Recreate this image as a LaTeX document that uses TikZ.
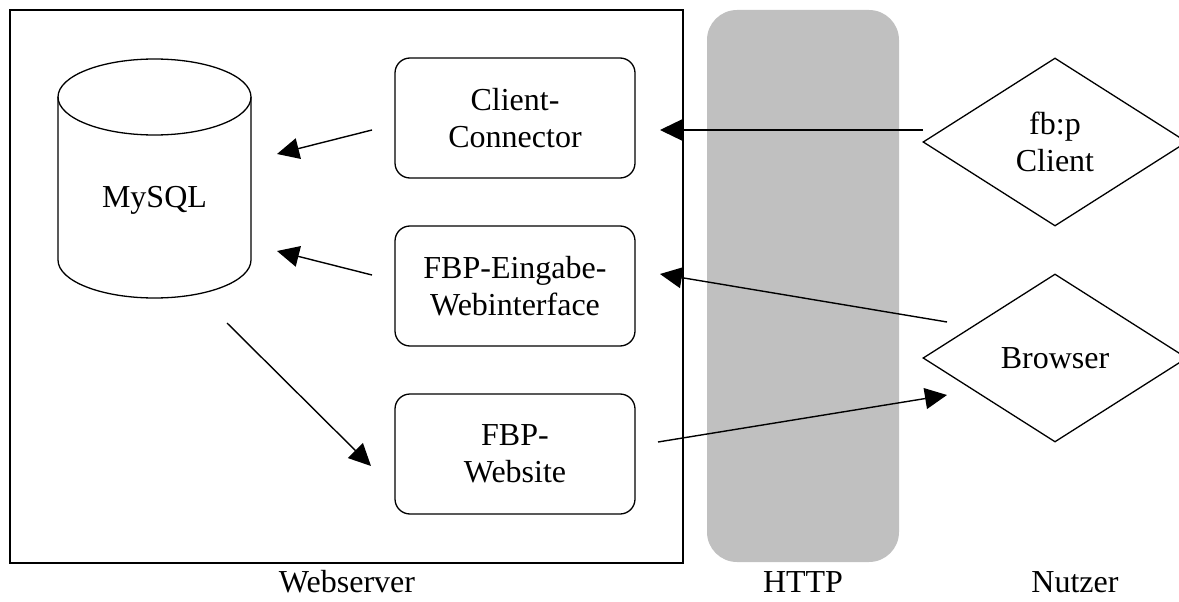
\documentclass[tikz,border=0pt]{standalone}
\usepackage{fontspec}
\setmainfont{Liberation Serif}
\usetikzlibrary{shapes.geometric, arrows.meta}
\definecolor{bandegris}{HTML}{C0C0C0}

\begin{document}
\begin{tikzpicture}[x=1pt, y=-1pt, font=\fontsize{32}{37}\selectfont]
	\tikzset{boite/.style={draw, rounded corners=15pt, line width=1.3pt, minimum width=240pt, minimum height=120pt, align=center, inner sep=0pt},
		losange/.style={draw, diamond, line width=1.3pt, minimum width=264pt, minimum height=168pt, align=center, inner sep=0pt},
		fleche/.style={line width=1.4pt, -{Triangle[length=22pt, width=21pt]}}};
	\useasboundingbox (0,0) rectangle (1179,602);

	% zones
	\node[fill=bandegris, rounded corners=30pt, minimum width=192pt, minimum height=552pt] (http) at (803,286) {};
	\node[draw, line width=1.5pt, minimum width=673pt, minimum height=553pt] (webserver) at (346.5,286.5) {};

	% base de donnees
	\draw[line width=1.3pt] (154.5,97) ellipse[x radius=96.5, y radius=38];
	\draw[line width=1.3pt] (58,97) -- (58,260) arc[start angle=180, end angle=0, x radius=96.5, y radius=38] -- (251,97);
	\node (mysql) at (154.5,200) {MySQL};

	\node[boite] (connector) at (515,118) {Client-\\Connector};
	\node[boite] (eingabe)   at (515,286) {FBP-Eingabe-\\Webinterface};
	\node[boite] (website)   at (515,454) {FBP-\\Website};

	\node[losange] (client)  at (1055,142) {fb:p\\Client};
	\node[losange] (browser) at (1055,358) {Browser};

	\node (lwebserver) at (347,582) {Webserver};
	\node (lhttp)      at (803,582) {HTTP};
	\node (lnutzer)    at (1075,582) {Nutzer};

	% extremites libres des fleches
	\coordinate (cc-a) at (372,130);  \coordinate (cc-b) at (277,154);
	\coordinate (ew-a) at (372,275);  \coordinate (ew-b) at (277,251);
	\coordinate (db-a) at (227,323);  \coordinate (db-b) at (371,466);
	\coordinate (cl-a) at (923,130);  \coordinate (cl-b) at (660,130);
	\coordinate (br-a) at (947,322);  \coordinate (br-b) at (660,274);
	\coordinate (ws-a) at (658,442);  \coordinate (ws-b) at (947,395);

	\draw[fleche] (cc-a) -- (cc-b);
	\draw[fleche] (ew-a) -- (ew-b);
	\draw[fleche] (db-a) -- (db-b);
	\draw[fleche] (cl-a) -- (cl-b);
	\draw[fleche] (br-a) -- (br-b);
	\draw[fleche] (ws-a) -- (ws-b);

\end{tikzpicture}
\end{document}
